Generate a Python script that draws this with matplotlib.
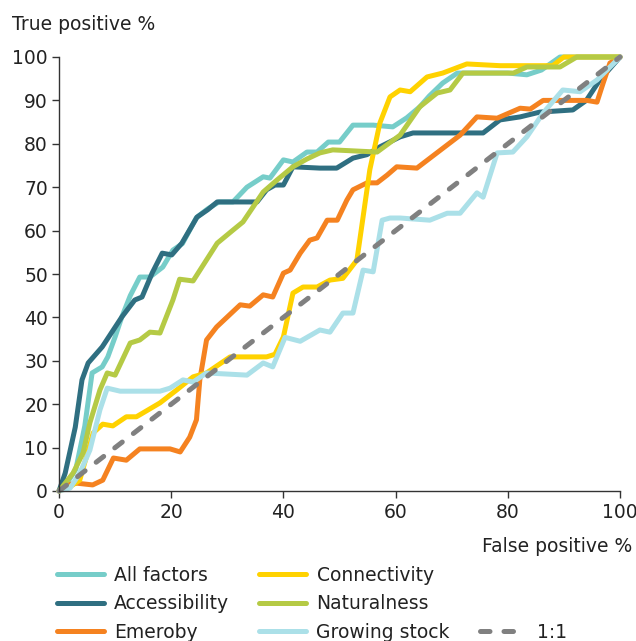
import matplotlib
matplotlib.use("Agg")
import matplotlib.pyplot as plt
from matplotlib.lines import Line2D

# ROC-style curves (false positive %, true positive %)
all_x = [0, 1.5, 3, 4.6, 5.9, 7.7, 8.7, 10, 11.2, 12.7, 14.4, 16.2, 18.5, 20.3, 22, 24.5, 26.5, 28.5,
         31, 33.5, 36.4, 37.6, 40, 41.7, 44.2, 46, 48, 50, 52.4, 56, 59.5, 62, 64.3, 66, 68.4, 71,
         76, 80, 83.4, 86, 89.3, 92, 100]
all_y = [0, 2, 5, 15, 27.2, 28.6, 30.9, 35.5, 40.1, 45, 49.3, 49.3, 51.6, 55.5, 57, 63, 65, 66.6,
         66.6, 70, 72.4, 72.1, 76.3, 75.8, 78.1, 78.1, 80.4, 80.4, 84.3, 84.3, 83.9, 86, 88.5, 91, 94, 96.3,
         96.3, 96.3, 95.9, 97, 100, 100, 100]

acc_x = [0, 1.1, 2.9, 4.1, 5.2, 7.7, 11.2, 13.5, 14.8, 16.6, 18.4, 20.1, 21.9, 24.6, 26.5, 28.2, 35.3,
         37, 38.5, 40, 41.7, 46.5, 49.5, 52.4, 54.9, 57.2, 60.8, 63.1, 75.6, 78.6, 82.2, 85.7, 91.6, 94,
         96.4, 100]
acc_y = [0, 4.1, 14.7, 25.6, 29.5, 33.2, 40.1, 44, 44.7, 50.2, 54.8, 54.4, 57.1, 63.1, 64.8, 66.6, 66.6,
         69.4, 70.5, 70.5, 74.7, 74.4, 74.4, 76.7, 77.5, 79.3, 81.6, 82.5, 82.5, 85.5, 86.2, 87.3, 87.8, 90,
         94.7, 100]

eme_x = [0, 1.4, 3.2, 6, 7.8, 9.7, 12, 14.4, 19.8, 21.6, 23.3, 24.5, 25.1, 26.3, 28.1, 32.3, 34, 36.4,
         38.1, 40, 41.2, 43, 44.7, 46, 47.8, 49.6, 51.3, 52.4, 54.9, 56.7, 58.5, 60.2, 63.8, 71.5, 74.5,
         78.1, 82.2, 84, 86.3, 94.1, 95.9, 97, 98.2, 100]
eme_y = [0, 1.4, 1.8, 1.4, 2.5, 7.6, 7.1, 9.7, 9.7, 9.0, 12.4, 16.4, 25.6, 34.8, 37.8, 42.9, 42.6, 45.2,
         44.7, 50.2, 50.9, 54.8, 57.8, 58.3, 62.4, 62.4, 67, 69.4, 71, 71, 72.8, 74.7, 74.4, 82, 86.2,
         85.9, 88.2, 88, 90, 90, 89.6, 94, 98.6, 100]

con_x = [0, 2, 3.7, 6.1, 7.8, 9.6, 12, 13.8, 18, 21, 23.9, 26.3, 30.5, 37, 38.5, 40, 41.7, 43.5, 46,
         48.3, 50.6, 53.1, 54.2, 55.4, 57.2, 59, 60.8, 62.6, 65.6, 68.4, 72.7, 78.6, 82, 88, 90, 100]
con_y = [0, 1, 2.5, 13.4, 15.4, 15, 17.1, 17.1, 20.3, 23.3, 26.3, 27.2, 30.9, 30.9, 31.5, 35.5, 45.6,
         47, 47, 48.6, 49, 53.2, 63.1, 74, 84.8, 90.8, 92.4, 92, 95.4, 96.3, 98.4, 98, 98, 98, 100, 100]

nat_x = [0, 2.5, 4.3, 5.5, 7.3, 8.6, 10, 12.7, 14.4, 16.2, 18, 20.3, 21.5, 23.9, 28.2, 31, 32.8, 36.4,
         38.9, 41.7, 44.2, 46.5, 48.8, 56.7, 60.8, 64.3, 67.4, 69.7, 72, 81, 83.4, 89.3, 92.3, 100]
nat_y = [0, 4.1, 8.8, 15.7, 23.3, 27.2, 26.7, 34.1, 34.8, 36.6, 36.4, 44, 48.8, 48.4, 57.1, 60.1, 62,
         68.9, 71.7, 74.7, 76.5, 77.9, 78.6, 78.1, 82, 88.5, 91.7, 92.4, 96.3, 96.3, 97.7, 97.7, 100, 100]

gro_x = [0, 2, 3.7, 5.5, 7.3, 8.6, 10.9, 18, 19.8, 22.1, 23.9, 26.3, 33.5, 36.4, 38.1, 40.3, 43, 46.5,
         48.3, 50.6, 52.4, 54.2, 56, 57.6, 59, 60.8, 66.1, 69.2, 71.5, 74.5, 75.6, 78.1, 80.9, 83.4, 86.3,
         89.8, 92.9, 95.9, 100]
gro_y = [0, 0.7, 4.1, 9.4, 18.7, 23.7, 23, 23, 23.7, 25.6, 25.1, 27.2, 26.7, 29.5, 28.6, 35.4, 34.5,
         37.1, 36.6, 41, 41, 50.9, 50.5, 62.4, 62.9, 62.9, 62.4, 64, 64, 68.7, 67.7, 77.9, 78.1, 81.6, 87.1,
         92.4, 92, 94.7, 100]

ref_x = [0, 100]
ref_y = [0, 100]

series = [
    ("All factors", all_x, all_y, "#76CDC9"),
    ("Accessibility", acc_x, acc_y, "#2F6F81"),
    ("Emeroby", eme_x, eme_y, "#F58220"),
    ("Connectivity", con_x, con_y, "#FFD200"),
    ("Naturalness", nat_x, nat_y, "#B5CA45"),
    ("Growing stock", gro_x, gro_y, "#ABE0E8"),
]

plt.rcParams['font.family'] = ['DejaVu Sans']
txt = "#222222"
fs = 13.5
lw = 3.6

fig = plt.figure(figsize=(6.36, 6.41), dpi=100)
ax = fig.add_axes([59 / 636, 1 - 491 / 641, 561 / 636, 434 / 641])

handles = {}
for name, xs, ys, col in series:
    ln, = ax.plot(xs, ys, color=col, lw=lw, solid_joinstyle='round', solid_capstyle='round',
                  label=name, clip_on=False)
    handles[name] = ln
ref, = ax.plot(ref_x, ref_y, color="#808080", lw=lw, dashes=(1.9, 2.8), dash_capstyle='round',
               label="1:1", clip_on=False)

ax.set_xlim(0, 100)
ax.set_ylim(0, 100)
ax.set_xticks(range(0, 101, 20))
ax.set_yticks(range(0, 101, 10))
for s in ['top', 'right']:
    ax.spines[s].set_visible(False)
for s in ['left', 'bottom']:
    ax.spines[s].set_color("#333333")
    ax.spines[s].set_linewidth(1.0)
ax.tick_params(axis='both', labelsize=fs, colors="#333333", labelcolor=txt, length=5, width=1)
ax.tick_params(axis='x', pad=4)
ax.tick_params(axis='y', pad=3)

fig.text(12 / 636, 1 - 25 / 641, "True positive %", fontsize=fs, color=txt, va='center', ha='left')
fig.text(632 / 636, 1 - 547 / 641, "False positive %", fontsize=fs, color=txt, va='center', ha='right')

blank = Line2D([], [], color='none')
leg_handles = [handles["All factors"], handles["Accessibility"], handles["Emeroby"],
               handles["Connectivity"], handles["Naturalness"], handles["Growing stock"],
               blank, blank, ref]
leg_labels = ["All factors", "Accessibility", "Emeroby",
              "Connectivity", "Naturalness", "Growing stock",
              "", "", "1:1"]
fig.legend(leg_handles, leg_labels, ncol=3, loc='upper left',
           bbox_to_anchor=(57 / 636, 1 - 566 / 641), frameon=False, fontsize=fs,
           handlelength=2.5, handletextpad=0.55, columnspacing=1.6, labelspacing=0.5,
           borderaxespad=0, borderpad=0, labelcolor=txt)

fig.savefig("out.png", dpi=100)
